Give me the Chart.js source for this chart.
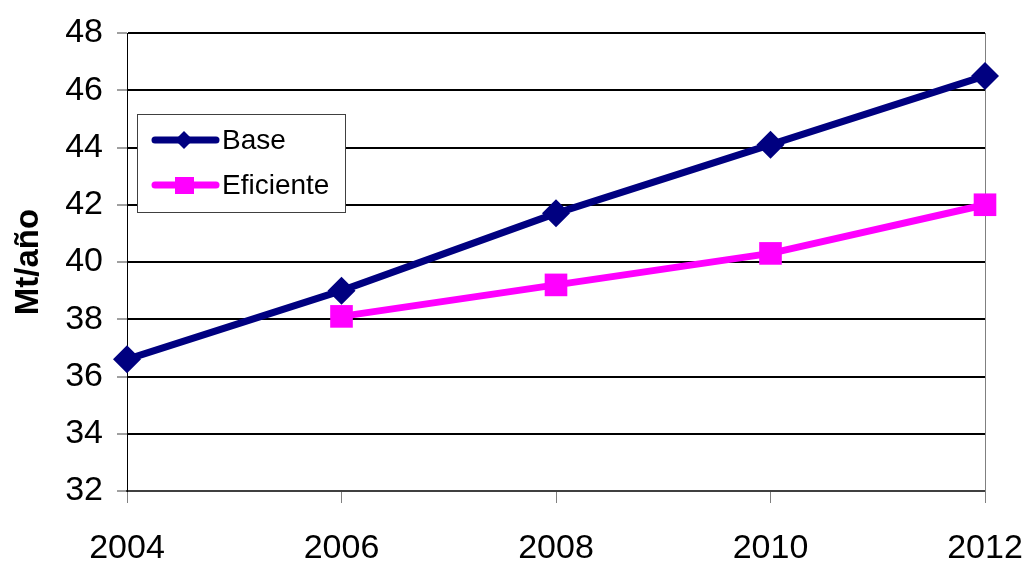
<!DOCTYPE html>
<html>
<head>
<meta charset="utf-8">
<script src="https://cdn.jsdelivr.net/npm/chart.js@4"></script>
<style>
  html, body { margin: 0; padding: 0; background: #fff; }
  #wrap { width: 1025px; height: 561px; }
</style>
</head>
<body>
<div id="wrap"><canvas id="chart" width="1025" height="561"></canvas></div>
<script>
// chart data
const years = ['2004', '2006', '2008', '2010', '2012'];
const baseValues = [36.6, 39.0, 41.7, 44.1, 46.5];
const eficienteValues = [null, 38.1, 39.2, 40.3, 42.0];
const yTicks = [32, 34, 36, 38, 40, 42, 44, 46, 48];

const FONT = "'Liberation Sans', Arial, sans-serif";

// legend box drawn inside the plot, like the original
const boxLegend = {
    id: 'boxLegend',
    afterDraw(chart) {
        const ctx = chart.ctx;
        const x = 137, y = 114, w = 208, h = 98;
        ctx.save();
        ctx.fillStyle = '#fff';
        ctx.fillRect(x, y, w, h);
        ctx.strokeStyle = '#404040';
        ctx.lineWidth = 1;
        ctx.strokeRect(x + 0.5, y + 0.5, w, h);

        const rows = [140, 185];
        chart.data.datasets.forEach(function(ds, i) {
            const cy = rows[i];
            ctx.strokeStyle = ds.borderColor;
            ctx.lineWidth = 7;
            ctx.lineCap = 'round';
            ctx.beginPath();
            ctx.moveTo(155, cy);
            ctx.lineTo(216, cy);
            ctx.stroke();

            ctx.fillStyle = ds.borderColor;
            ctx.beginPath();
            if (ds.pointStyle === 'rectRot') {
                const r = 9;
                ctx.moveTo(184 - r, cy);
                ctx.lineTo(184, cy - r);
                ctx.lineTo(184 + r, cy);
                ctx.lineTo(184, cy + r);
                ctx.closePath();
            } else {
                ctx.rect(175, cy - 8, 19, 17);
            }
            ctx.fill();

            ctx.fillStyle = '#000';
            ctx.font = '28px ' + FONT;
            ctx.textBaseline = 'middle';
            ctx.textAlign = 'left';
            ctx.fillText(ds.label, 222, cy + 1);
        });
        ctx.restore();
    }
};

// thin grey right edge of the plot
const rightEdge = {
    id: 'rightEdge',
    beforeDatasetsDraw(chart) {
        const a = chart.chartArea;
        const ctx = chart.ctx;
        ctx.save();
        ctx.strokeStyle = '#808080';
        ctx.lineWidth = 1;
        ctx.beginPath();
        ctx.moveTo(a.right + 0.5, a.top);
        ctx.lineTo(a.right + 0.5, a.bottom + 12);
        ctx.stroke();
        ctx.restore();
    }
};

const ctx = document.getElementById('chart').getContext('2d');
new Chart(ctx, {
    type: 'line',
    data: {
        labels: years,
        datasets: [{
            label: 'Base',
            data: baseValues,
            borderColor: '#000080',
            backgroundColor: '#000080',
            borderWidth: 7,
            pointStyle: 'rectRot',
            pointRadius: 14,
            pointBorderWidth: 0,
            tension: 0
        }, {
            label: 'Eficiente',
            data: eficienteValues,
            borderColor: '#FF00FF',
            backgroundColor: '#FF00FF',
            borderWidth: 7,
            pointStyle: 'rect',
            pointRadius: 16,
            pointBorderWidth: 0,
            tension: 0
        }]
    },
    options: {
        responsive: false,
        animation: false,
        layout: {
            padding: { top: 33, right: 40, left: 0, bottom: 0 }
        },
        plugins: {
            legend: { display: false },
            tooltip: { enabled: false }
        },
        scales: {
            x: {
                offset: false,
                grid: {
                    drawOnChartArea: false,
                    tickLength: 12,
                    tickColor: '#808080',
                    tickWidth: 1
                },
                border: { color: '#404040', width: 2 },
                ticks: {
                    color: '#000',
                    padding: 25,
                    maxRotation: 0,
                    font: { family: FONT, size: 34 }
                },
                afterFit: function(scale) {
                    scale.height = 70;
                    scale.paddingLeft = 0;
                    scale.paddingRight = 0;
                }
            },
            y: {
                min: 32,
                max: 48,
                afterBuildTicks: function(scale) {
                    scale.ticks = yTicks.map(function(v) { return { value: v }; });
                },
                grid: {
                    color: '#000',
                    lineWidth: 2,
                    tickLength: 10,
                    tickColor: '#404040',
                    tickWidth: 1
                },
                border: { color: '#000', width: 1 },
                ticks: {
                    color: '#000',
                    padding: 14,
                    font: { family: FONT, size: 34 }
                },
                title: {
                    display: true,
                    text: 'Mt/año',
                    color: '#000',
                    padding: { top: 9, bottom: 0 },
                    font: { family: FONT, size: 33, weight: 'bold' }
                },
                afterFit: function(scale) {
                    scale.width = 127;
                    scale.paddingTop = 0;
                    scale.paddingBottom = 0;
                }
            }
        }
    },
    plugins: [rightEdge, boxLegend]
});
</script>
</body>
</html>
